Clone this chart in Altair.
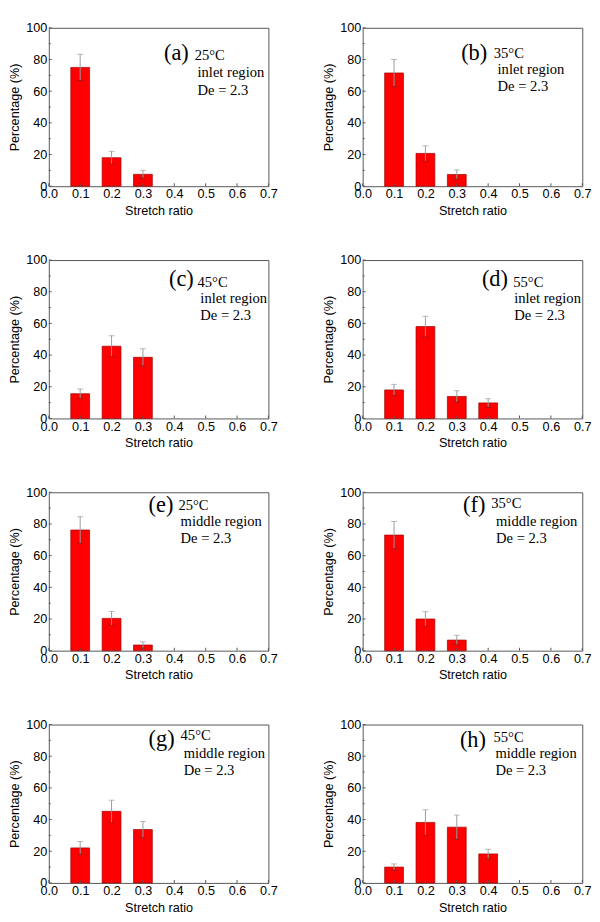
import altair as alt
import pandas as pd

# ---- data ----
stretch = [0.1, 0.2, 0.3, 0.4]
pct = [
    [75, 18, 7.5],
    [71.5, 20.7, 7.4],
    [15.6, 45.6, 38.6],
    [18, 58, 13.9, 9.8],
    [76.2, 20.4, 3.6],
    [73, 20, 6.7],
    [22.1, 45.2, 33.7],
    [10, 38.2, 35.2, 18.3],
]
err = [
    [8.3, 4, 2.5],
    [8.5, 4.8, 2.9],
    [3, 6.6, 5.4],
    [3.5, 6.5, 3.6, 2.7],
    [8.4, 4.4, 2],
    [8.6, 4.6, 3],
    [4, 7, 5.1],
    [2, 8, 7.6, 3],
]
letters = ["(a)", "(b)", "(c)", "(d)", "(e)", "(f)", "(g)", "(h)"]
temps = ["25°C", "35°C", "45°C", "55°C", "25°C", "35°C", "45°C", "55°C"]
regions = ["inlet region"] * 4 + ["middle region"] * 4
de_text = "De = 2.3"
x_ticks = [0.0, 0.1, 0.2, 0.3, 0.4, 0.5, 0.6, 0.7]
y_ticks = [0, 20, 40, 60, 80, 100]
y_minor = [10, 30, 50, 70, 90]

# annotation anchor positions (data units)
letter_x = [0.367, 0.314, 0.383, 0.38, 0.318, 0.32, 0.318, 0.31]
letter_y = [84, 84, 88, 88, 92, 92, 91, 90]
temp_x = [0.465, 0.418, 0.474, 0.48, 0.413, 0.41, 0.42, 0.417]
temp_y = [83, 84, 86, 86, 92, 93, 93, 92]
line_x = [0.474, 0.43, 0.483, 0.483, 0.42, 0.425, 0.43, 0.423]
region_y = [72, 74, 76, 76, 82, 82, 82, 82]
de_y = [60.8, 63, 65, 65, 71, 71, 71, 71]

W, H = 226, 163
BAR_HALF = 0.03
FRAME = "#555555"

xscale = alt.Scale(domain=[0, 0.7], nice=False, zero=False)
yscale = alt.Scale(domain=[0, 100], nice=False)
xaxis = alt.Axis(values=x_ticks, format=".1f", title="Stretch ratio", grid=False,
                 ticks=False, domain=False, labelPadding=2, titlePadding=4,
                 labelOverlap=False, labelFlush=False, labelBound=False)
yaxis = alt.Axis(values=y_ticks, format="d", title="Percentage (%)", grid=False,
                 ticks=False, domain=False, labelPadding=2, titlePadding=4,
                 labelOverlap=False, labelFlush=False, labelBound=False)


def X(field):
    return alt.X(field, scale=xscale, axis=xaxis)


def Y(field):
    return alt.Y(field, scale=yscale, axis=yaxis)


def panel(i):
    n = len(pct[i])
    df = pd.DataFrame({"x": stretch[:n], "v": pct[i], "e": err[i]})
    base = alt.Chart(df).transform_calculate(
        x0=f"datum.x - {BAR_HALF}", x1=f"datum.x + {BAR_HALF}",
        lo="datum.v - datum.e", hi="datum.v + datum.e")
    bars = base.mark_rect(color="#ff0000", stroke="#9a0000", strokeWidth=0.7).encode(
        x=X("x0:Q"), x2="x1:Q", y=Y("v:Q"), y2=alt.datum(0))
    rule = base.mark_rule(color="#9a9a9a", strokeWidth=1).encode(
        x=X("x:Q"), y=Y("lo:Q"), y2="hi:Q")
    cap_hi = base.mark_tick(orient="horizontal", size=6, thickness=1, color="#9a9a9a").encode(
        x=X("x:Q"), y=Y("hi:Q"))
    cap_lo = base.mark_tick(orient="horizontal", size=6, thickness=1, color="#7a2020").encode(
        x=X("x:Q"), y=Y("lo:Q"))

    # inward axis ticks
    ymaj = alt.Chart(pd.DataFrame({"t": y_ticks})).mark_rule(color=FRAME, strokeWidth=1).encode(
        y=Y("t:Q"), x=alt.value(0), x2=alt.value(3))
    ymin = alt.Chart(pd.DataFrame({"t": y_minor})).mark_rule(color=FRAME, strokeWidth=1).encode(
        y=Y("t:Q"), x=alt.value(0), x2=alt.value(2))
    xmaj = alt.Chart(pd.DataFrame({"t": x_ticks})).mark_rule(color=FRAME, strokeWidth=1).encode(
        x=X("t:Q"), y=alt.value(H), y2=alt.value(H - 3))

    ann1 = pd.DataFrame({"x": [letter_x[i]], "y": [letter_y[i]], "t": [letters[i]]})
    ann2 = pd.DataFrame({
        "x": [temp_x[i], line_x[i], line_x[i]],
        "y": [temp_y[i], region_y[i], de_y[i]],
        "t": [temps[i], regions[i], de_text],
    })
    t1 = alt.Chart(ann1).mark_text(font="Liberation Serif", fontSize=23, align="left",
                                   baseline="middle", color="black").encode(
        x=X("x:Q"), y=Y("y:Q"), text="t:N")
    t2 = alt.Chart(ann2).mark_text(font="Liberation Serif", fontSize=15, align="left",
                                   baseline="middle", color="black").encode(
        x=X("x:Q"), y=Y("y:Q"), text="t:N")
    return alt.layer(bars, rule, cap_hi, cap_lo, ymaj, ymin, xmaj, t1, t2).properties(
        width=W, height=H)


rows = [alt.hconcat(panel(2 * r), panel(2 * r + 1), spacing=45) for r in range(4)]
chart = alt.vconcat(*rows, spacing=36).properties(padding=0).configure_view(
    stroke=FRAME, strokeWidth=1
).configure_axis(
    labelFont="Liberation Sans", titleFont="Liberation Sans",
    labelFontSize=13, titleFontSize=13, titleFontWeight="normal",
    labelColor="black", titleColor="black", labelOverlap=False,
)

chart.save("out.html", embed_options={"renderer": "svg", "actions": False})
